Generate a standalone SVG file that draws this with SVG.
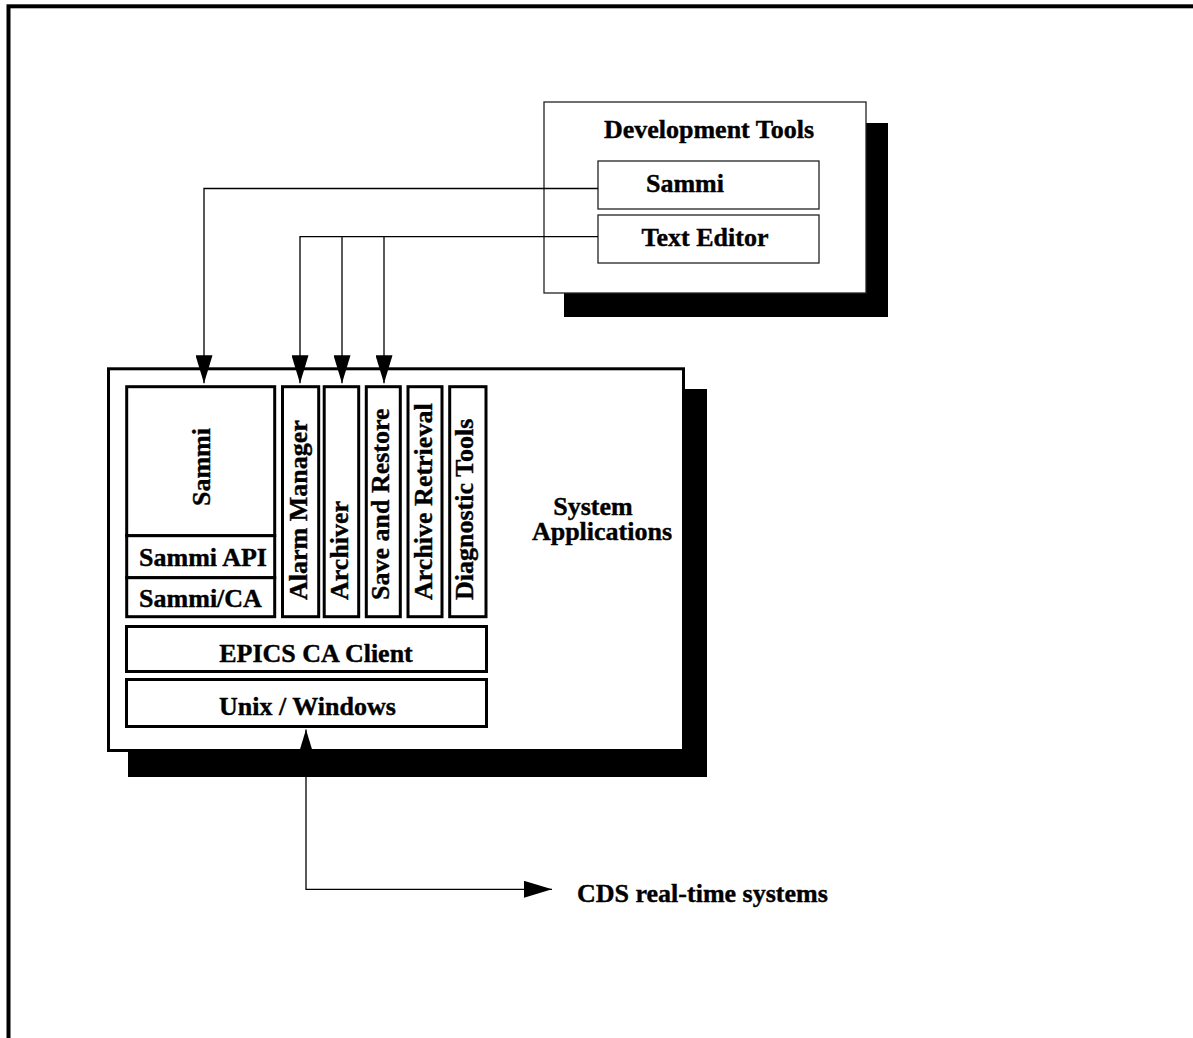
<svg xmlns="http://www.w3.org/2000/svg" width="1193" height="1038" viewBox="0 0 1193 1038">
<defs>
<style>
text{font-family:"Liberation Serif","Times New Roman",serif;font-weight:bold;font-size:26px;fill:#000;stroke:#000;stroke-width:0.4}
.mid{text-anchor:middle}
.box{fill:#fff;stroke:#000;stroke-width:3}
.thin{fill:#fff;stroke:#222;stroke-width:1.3}
.shadow{fill:#000;stroke:none}
.conn{fill:none;stroke:#000;stroke-width:1.3}
</style>
<marker id="arr" markerUnits="userSpaceOnUse" markerWidth="29" markerHeight="17" refX="28" refY="8.5" orient="auto-start-reverse">
<path d="M0,0 L28,8.5 L0,17 Z" fill="#000"/>
</marker>
</defs>
<rect width="1193" height="1038" fill="#fff"/>
<g id="frame"><rect x="8.5" y="6.3" width="1300" height="1200" fill="none" stroke="#000" stroke-width="4"/></g>

<g id="development-tools">
<rect class="shadow" x="564" y="123" width="324" height="194"/>
<rect class="thin" x="544" y="102" width="322" height="191"/>
<text class="mid" x="709" y="138">Development Tools</text>
</g>
<g id="dt-sammi">
<rect class="thin" x="598" y="161" width="221" height="48"/>
<text class="mid" x="685" y="192">Sammi</text>
</g>
<g id="dt-text-editor">
<rect class="thin" x="598" y="215" width="221" height="48"/>
<text class="mid" x="705" y="246">Text Editor</text>
</g>

<g id="system-applications">
<rect class="shadow" x="128" y="389" width="579" height="388"/>
<rect class="box" x="108.5" y="368.8" width="575" height="381.7"/>
<text class="mid"><tspan x="593" y="515">System</tspan><tspan x="602" y="540">Applications</tspan></text>
</g>
<g id="sammi">
<rect class="box" x="126.7" y="386.7" width="148" height="149"/>
<text class="mid" transform="translate(210,467) rotate(-90)">Sammi</text>
</g>
<g id="sammi-api">
<rect class="box" x="126.7" y="535.7" width="148" height="42"/>
<text class="mid" x="203" y="566">Sammi API</text>
</g>
<g id="sammi-ca">
<rect class="box" x="126.7" y="577.7" width="148" height="39"/>
<text class="mid" x="200.5" y="607">Sammi/CA</text>
</g>
<g id="alarm-manager">
<rect class="box" x="282.5" y="386.7" width="36.2" height="230"/>
<text transform="translate(307.3,600) rotate(-90)">Alarm Manager</text>
</g>
<g id="archiver">
<rect class="box" x="324.2" y="386.7" width="34.5" height="230"/>
<text transform="translate(348.3,600) rotate(-90)">Archiver</text>
</g>
<g id="save-and-restore">
<rect class="box" x="366.3" y="386.7" width="34" height="230"/>
<text transform="translate(389,600) rotate(-90)">Save and Restore</text>
</g>
<g id="archive-retrieval">
<rect class="box" x="408" y="386.7" width="34" height="230"/>
<text transform="translate(431.7,600) rotate(-90)">Archive Retrieval</text>
</g>
<g id="diagnostic-tools">
<rect class="box" x="449.7" y="386.7" width="36.3" height="230"/>
<text transform="translate(473.3,600) rotate(-90)">Diagnostic Tools</text>
</g>
<g id="epics-ca-client">
<rect class="box" x="126.5" y="626.5" width="360" height="45"/>
<text class="mid" x="316" y="661.5">EPICS CA Client</text>
</g>
<g id="unix-windows">
<rect class="box" x="126.5" y="679.5" width="360" height="47"/>
<text class="mid" x="307.5" y="715">Unix / Windows</text>
</g>
<g id="cds-real-time-systems">
<text x="577" y="901.5">CDS real-time systems</text>
</g>

<g id="connectors">
<path class="conn" d="M598,188.5 H204 V383.3" marker-end="url(#arr)"/>
<path class="conn" d="M598,236.7 H300 V383.3" marker-end="url(#arr)"/>
<path class="conn" d="M342,236.7 V383.3" marker-end="url(#arr)"/>
<path class="conn" d="M384,236.7 V383.3" marker-end="url(#arr)"/>
<path class="conn" d="M306,729.5 V889.3 H552" marker-start="url(#arr)" marker-end="url(#arr)"/>
</g>
</svg>
